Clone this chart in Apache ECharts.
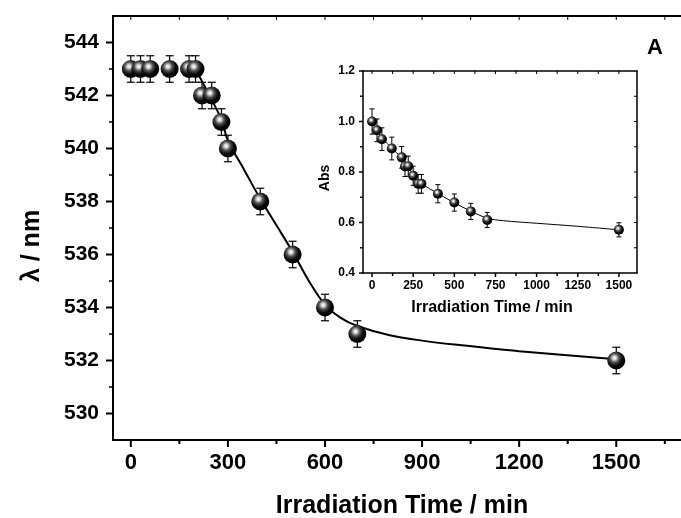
<!DOCTYPE html>
<html>
<head>
<meta charset="utf-8">
<script src="https://cdn.jsdelivr.net/npm/echarts@6/dist/echarts.min.js"></script>
<style>
  html, body { margin: 0; padding: 0; background: #fff; }
  #main-chart-1 { width: 681px; height: 518px; }
</style>
</head>
<body>
<div id="main-chart-1"></div>
<script>
// irradiation times (min), same for both panels
const times = [0, 30, 60, 120, 180, 200, 220, 250, 280, 300, 400, 500, 600, 700, 1500];

// main panel: peak wavelength
const lambdaVals = [543, 543, 543, 543, 543, 543, 542, 542, 541, 540, 538, 536, 534, 533, 532];
const lambdaErr  = [0.5, 0.5, 0.5, 0.5, 0.5, 0.5, 0.5, 0.5, 0.5, 0.5, 0.5, 0.5, 0.5, 0.5, 0.5];
// fitted curve
const lambdaFit = [
    [200, 543], [230, 542.3], [280, 541.1], [300, 540.3], [350, 539.2], [400, 538.1],
    [450, 537.1], [500, 536.1], [550, 535.0], [600, 534.1], [650, 533.6], [700, 533.3],
    [800, 532.95], [900, 532.75], [1000, 532.6], [1200, 532.35], [1500, 532.05]
];

// inset: absorbance
const absVals = [1.00, 0.965, 0.93, 0.893, 0.858, 0.822, 0.823, 0.785, 0.753, 0.753, 0.714, 0.679, 0.644, 0.61, 0.571];
const absErr  = [0.05, 0.045, 0.045, 0.045, 0.043, 0.04, 0.04, 0.038, 0.037, 0.037, 0.036, 0.034, 0.032, 0.03, 0.028];
const absFit = [
    [0, 1.0], [60, 0.935], [120, 0.895], [180, 0.855], [250, 0.79], [300, 0.755],
    [400, 0.715], [500, 0.678], [600, 0.645], [700, 0.617], [800, 0.607],
    [1000, 0.597], [1250, 0.585], [1500, 0.571]
];

// axis ranges
const mainX = [-55, 1700], mainY = [529, 545];
const insetX = [-55, 1610], insetY = [0.4, 1.2];

// tick values
const mainXTicks = [0, 300, 600, 900, 1200, 1500];
const mainXMinor = [150, 450, 750, 1050, 1350, 1650];
const mainXTop   = [0, 150, 300, 450, 600, 750, 900, 1050, 1200, 1350, 1500, 1650];
const mainYTicks = [530, 532, 534, 536, 538, 540, 542, 544];
const mainYMinor = [531, 533, 535, 537, 539, 541, 543];
const insetXTicks = [0, 250, 500, 750, 1000, 1250, 1500];
const insetXMinor = [125, 375, 625, 875, 1125, 1375];
const insetXTop   = [0, 125, 250, 375, 500, 625, 750, 875, 1000, 1125, 1250, 1375, 1500];
const insetYTicks = [0.4, 0.6, 0.8, 1.0, 1.2];
const insetYMinor = [0.5, 0.7, 0.9, 1.1];
const insetYRight = [0.5, 0.6, 0.7, 0.8, 0.9, 1.0, 1.1];

const FONT = '"Liberation Sans", Arial, sans-serif';

const sphere = {
    type: 'radial', x: 0.4, y: 0.36, r: 0.62,
    colorStops: [
        { offset: 0, color: '#ffffff' },
        { offset: 0.15, color: '#dcdcdc' },
        { offset: 0.4, color: '#505050' },
        { offset: 0.7, color: '#0a0a0a' },
        { offset: 1, color: '#000000' }
    ]
};

function zip(xs, ys, es) {
    return xs.map((x, i) => es ? [x, ys[i], es[i]] : [x, ys[i]]);
}

function errBars(capHalf, width) {
    return function (params, api) {
        const x = api.value(0), y = api.value(1), e = api.value(2);
        const hi = api.coord([x, y + e]);
        const lo = api.coord([x, y - e]);
        const st = { stroke: '#000', lineWidth: width };
        return {
            type: 'group',
            children: [
                { type: 'line', shape: { x1: hi[0], y1: hi[1], x2: lo[0], y2: lo[1] }, style: st },
                { type: 'line', shape: { x1: hi[0] - capHalf, y1: hi[1], x2: hi[0] + capHalf, y2: hi[1] }, style: st },
                { type: 'line', shape: { x1: lo[0] - capHalf, y1: lo[1], x2: lo[0] + capHalf, y2: lo[1] }, style: st }
            ]
        };
    };
}

// ticks drawn through the axis scale: dx/dy is the direction in px
function tickSeries(xi, yi, data, dx, dy, width) {
    return {
        type: 'custom', xAxisIndex: xi, yAxisIndex: yi, data: data, z: 10, silent: true,
        renderItem: function (params, api) {
            const p = api.coord([api.value(0), api.value(1)]);
            return { type: 'line', shape: { x1: p[0], y1: p[1], x2: p[0] + dx, y2: p[1] + dy },
                     style: { stroke: '#000', lineWidth: width } };
        }
    };
}

const xt = (vals, at) => vals.map(v => [v, at]);
const yt = (vals, at) => vals.map(v => [at, v]);

const axLine = w => ({ show: true, onZero: false, lineStyle: { color: '#000', width: w } });
const noTick = { show: false };
const plain = v => String(Math.round(v));

const chart = echarts.init(document.getElementById('main-chart-1'));

chart.setOption({
    animation: false,
    backgroundColor: '#fff',
    grid: [
        { left: 113, top: 16, width: 577, height: 424 },
        { left: 363, top: 71, width: 274, height: 202, backgroundColor: '#fff', show: true, borderWidth: 0 }
    ],
    xAxis: [
        { type: 'value', gridIndex: 0, min: mainX[0], max: mainX[1], position: 'bottom',
          axisLine: axLine(2), splitLine: { show: false }, axisTick: noTick,
          axisLabel: { customValues: mainXTicks, formatter: plain, margin: 12, color: '#000',
                       fontSize: 22, fontWeight: 'bold', fontFamily: FONT } },
        { type: 'value', gridIndex: 0, min: mainX[0], max: mainX[1], position: 'top',
          axisLine: axLine(2), splitLine: { show: false }, axisTick: noTick, axisLabel: { show: false } },
        { type: 'value', gridIndex: 1, min: insetX[0], max: insetX[1], position: 'bottom',
          axisLine: axLine(1.5), splitLine: { show: false }, axisTick: noTick,
          axisLabel: { customValues: insetXTicks, formatter: plain, margin: 7, color: '#000',
                       fontSize: 12, fontWeight: 'bold', fontFamily: FONT } },
        { type: 'value', gridIndex: 1, min: insetX[0], max: insetX[1], position: 'top',
          axisLine: axLine(1.5), splitLine: { show: false }, axisTick: noTick, axisLabel: { show: false } }
    ],
    yAxis: [
        { type: 'value', gridIndex: 0, min: mainY[0], max: mainY[1], position: 'left',
          axisLine: axLine(2), splitLine: { show: false }, axisTick: noTick,
          axisLabel: { customValues: mainYTicks, formatter: plain, margin: 14, color: '#000',
                       fontSize: 21, fontWeight: 'bold', fontFamily: FONT } },
        { type: 'value', gridIndex: 1, min: insetY[0], max: insetY[1], position: 'left',
          axisLine: axLine(1.5), splitLine: { show: false }, axisTick: noTick,
          axisLabel: { customValues: insetYTicks, margin: 8, color: '#000', fontSize: 12,
                       fontWeight: 'bold', fontFamily: FONT, formatter: v => v.toFixed(1) } },
        { type: 'value', gridIndex: 1, min: insetY[0], max: insetY[1], position: 'right',
          axisLine: axLine(1.5), splitLine: { show: false }, axisTick: noTick, axisLabel: { show: false } }
    ],
    graphic: [
        { type: 'text', x: 402, y: 506, style: { text: 'Irradiation Time / min', fill: '#000',
          font: 'bold 25px ' + FONT, textAlign: 'center', textVerticalAlign: 'middle' } },
        { type: 'text', x: 32, y: 246, rotation: Math.PI / 2, style: { text: 'λ / nm', fill: '#000',
          font: 'bold 25px ' + FONT, textAlign: 'center', textVerticalAlign: 'middle' } },
        { type: 'text', x: 492, y: 308, style: { text: 'Irradiation Time / min', fill: '#000',
          font: 'bold 16px ' + FONT, textAlign: 'center', textVerticalAlign: 'middle' } },
        { type: 'text', x: 325, y: 178, rotation: Math.PI / 2, style: { text: 'Abs', fill: '#000',
          font: 'bold 14px ' + FONT, textAlign: 'center', textVerticalAlign: 'middle' } },
        { type: 'text', x: 655, y: 48, style: { text: 'A', fill: '#000',
          font: 'bold 22px ' + FONT, textAlign: 'center', textVerticalAlign: 'middle' } }
    ],
    series: [
        // main ticks
        tickSeries(0, 0, xt(mainXTicks, mainY[0]), 0, 7, 2),
        tickSeries(0, 0, xt(mainXMinor, mainY[0]), 0, 4, 2),
        tickSeries(0, 0, xt(mainXTop, mainY[1]), 0, 4, 1),
        tickSeries(0, 0, yt(mainYTicks, mainX[0]), -7, 0, 2),
        tickSeries(0, 0, yt(mainYMinor, mainX[0]), -4, 0, 1.5),
        // inset ticks
        tickSeries(2, 1, xt(insetXTicks, insetY[0]), 0, 4, 1.5),
        tickSeries(2, 1, xt(insetXMinor, insetY[0]), 0, 3, 1.5),
        tickSeries(2, 1, xt(insetXTop, insetY[1]), 0, 3, 1),
        tickSeries(2, 1, yt(insetYTicks, insetX[0]), -4, 0, 1.5),
        tickSeries(2, 1, yt(insetYMinor, insetX[0]), -3, 0, 1.5),
        tickSeries(2, 1, yt(insetYRight, insetX[1]), -3, 0, 1),

        // main data
        { type: 'line', xAxisIndex: 0, yAxisIndex: 0, data: lambdaFit, smooth: 0.3, showSymbol: false,
          lineStyle: { color: '#000', width: 2 }, z: 2 },
        { type: 'custom', xAxisIndex: 0, yAxisIndex: 0, data: zip(times, lambdaVals, lambdaErr),
          renderItem: errBars(4, 1.2), z: 3 },
        { type: 'scatter', xAxisIndex: 0, yAxisIndex: 0, data: zip(times, lambdaVals), symbolSize: 18,
          itemStyle: { color: sphere, opacity: 1 }, z: 4 },

        // inset data
        { type: 'line', xAxisIndex: 2, yAxisIndex: 1, data: absFit, smooth: 0.3, showSymbol: false,
          lineStyle: { color: '#000', width: 1 }, z: 5 },
        { type: 'custom', xAxisIndex: 2, yAxisIndex: 1, data: zip(times, absVals, absErr),
          renderItem: errBars(2.5, 1), z: 6 },
        { type: 'scatter', xAxisIndex: 2, yAxisIndex: 1, data: zip(times, absVals), symbolSize: 10,
          itemStyle: { color: sphere, opacity: 1 }, z: 7 }
    ]
});

window.addEventListener('resize', () => chart.resize());
</script>
</body>
</html>
